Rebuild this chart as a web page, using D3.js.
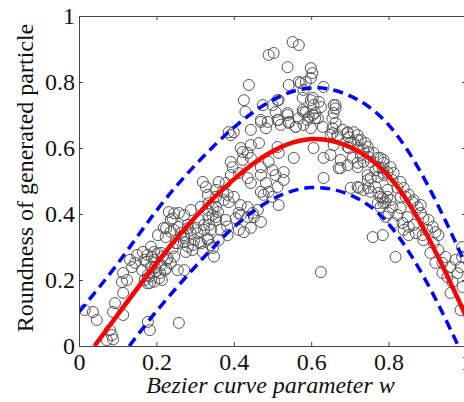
<!DOCTYPE html>
<html><head><meta charset="utf-8">
<script src="https://cdn.jsdelivr.net/npm/d3@7"></script>
<style>html,body{margin:0;padding:0;background:#fff;overflow:hidden}</style>
</head><body>
<svg id="c" width="464" height="402"></svg>
<script>
// ---------- data ----------
const xTicks = [0, 0.2, 0.4, 0.6, 0.8, 1];
const xTickLabels = ["0", "0.2", "0.4", "0.6", "0.8", "1"];
const yTicks = [0, 0.2, 0.4, 0.6, 0.8, 1];
const yTickLabels = ["0", "0.2", "0.4", "0.6", "0.8", "1"];
const xTitle = "Bezier curve parameter w";
const yTitle = "Roundness of generated particle";

// fitted curve (red)
const fitX = [0.04, 0.1, 0.2, 0.3, 0.4, 0.5, 0.6, 0.7, 0.8, 0.9, 1.0];
const fitY = [0.0, 0.095, 0.25, 0.39, 0.505, 0.59, 0.627, 0.603, 0.515, 0.335, 0.09];
// upper bound (blue dashed)
const upX = [0, 0.1, 0.2, 0.3, 0.4, 0.5, 0.6, 0.7, 0.8, 0.9, 1.0];
const upY = [0.103, 0.25, 0.41, 0.548, 0.662, 0.745, 0.782, 0.758, 0.67, 0.49, 0.245];
// lower bound (blue dashed)
const loX = [0.13, 0.2, 0.3, 0.4, 0.5, 0.6, 0.7, 0.8, 0.9, 0.98];
const loY = [0.0, 0.105, 0.24, 0.36, 0.445, 0.48, 0.458, 0.37, 0.19, 0.0];

// scatter points [w, roundness]
const samples = [
[0.015,0.109],[0.036,0.103],[0.046,0.079],[0.093,0.13],[0.088,0.103],[0.114,0.094],[0.08,0.048],[0.085,0.033],[0.072,0.018],[0.088,0.02],
[0.114,0.161],[0.111,0.194],[0.124,0.2],[0.114,0.221],[0.137,0.239],[0.145,0.252],[0.132,0.261],[0.15,0.276],[0.163,0.23],[0.17,0.2],
[0.178,0.215],[0.183,0.191],[0.175,0.255],[0.188,0.27],[0.196,0.239],[0.209,0.221],[0.222,0.23],[0.214,0.2],[0.227,0.261],[0.165,0.285],
[0.178,0.073],[0.183,0.048],
[0.186,0.301],[0.177,0.276],[0.169,0.261],[0.194,0.261],[0.186,0.24],[0.203,0.281],[0.216,0.271],[0.229,0.266],[0.212,0.245],[0.199,0.225],
[0.181,0.21],[0.177,0.19],[0.194,0.195],[0.207,0.205],[0.225,0.235],[0.237,0.251],[0.246,0.271],[0.242,0.296],[0.255,0.311],[0.272,0.326],
[0.263,0.342],[0.281,0.357],[0.237,0.346],[0.225,0.357],[0.242,0.387],[0.246,0.402],[0.272,0.397],[0.289,0.412],[0.315,0.422],[0.332,0.412],
[0.354,0.422],[0.345,0.397],[0.354,0.382],[0.336,0.367],[0.323,0.352],[0.306,0.342],[0.298,0.321],[0.281,0.301],[0.293,0.291],[0.315,0.311],
[0.332,0.326],[0.341,0.306],[0.349,0.271],[0.272,0.23],[0.255,0.23],[0.366,0.352],[0.383,0.362],[0.405,0.387],[0.418,0.397],[0.258,0.07],
[0.387,0.648],[0.392,0.639],[0.47,0.679],[0.465,0.615],[0.444,0.609],[0.423,0.588],[0.436,0.585],[0.444,0.57],[0.423,0.564],[0.392,0.558],
[0.397,0.542],[0.413,0.524],[0.392,0.518],[0.436,0.509],[0.444,0.494],[0.47,0.518],[0.483,0.494],[0.47,0.542],[0.49,0.558],[0.47,0.467],
[0.49,0.467],[0.379,0.494],[0.361,0.497],[0.32,0.497],[0.328,0.482],[0.354,0.473],[0.372,0.467],[0.384,0.458],[0.354,0.452],[0.374,0.442],
[0.387,0.436],[0.4,0.452],[0.418,0.427],[0.413,0.403],[0.436,0.421],[0.436,0.391],[0.462,0.412],[0.47,0.376],[0.449,0.403],[0.335,0.433],
[0.346,0.418],[0.359,0.406],[0.354,0.391],[0.379,0.382],[0.335,0.388],[0.323,0.367],[0.31,0.382],[0.302,0.358],[0.281,0.367],[0.289,0.342],
[0.271,0.336],[0.258,0.361],[0.245,0.352],[0.237,0.382],[0.258,0.403],[0.232,0.406],[0.219,0.358],[0.224,0.33],[0.204,0.336],[0.194,0.285],
[0.212,0.282],[0.25,0.312],[0.271,0.315],[0.294,0.306],[0.31,0.315],[0.333,0.321],[0.341,0.352],[0.333,0.458],[0.346,0.297],[0.32,0.285],
[0.276,0.285],[0.361,0.321],[0.384,0.336],[0.413,0.352],[0.426,0.345],[0.444,0.358],[0.452,0.391],[0.477,0.458],
[0.552,0.921],[0.568,0.912],[0.49,0.882],[0.503,0.888],[0.539,0.845],[0.599,0.842],[0.603,0.827],[0.599,0.812],[0.439,0.791],[0.426,0.745],
[0.43,0.71],[0.542,0.791],[0.568,0.80],[0.586,0.80],[0.632,0.785],[0.58,0.776],[0.578,0.752],[0.604,0.752],[0.62,0.74],[0.625,0.724],
[0.658,0.73],[0.663,0.72],[0.578,0.715],[0.586,0.709],[0.604,0.70],[0.61,0.69],[0.59,0.685],[0.568,0.69],[0.539,0.70],[0.542,0.679],
[0.513,0.685],[0.516,0.745],[0.50,0.73],[0.475,0.73],[0.47,0.685],[0.488,0.679],[0.521,0.67],[0.56,0.664],[0.483,0.66],[0.444,0.655],
[0.40,0.648],[0.418,0.6],[0.599,0.66],[0.63,0.664],[0.681,0.655],[0.694,0.645],[0.668,0.633],[0.65,0.64],[0.702,0.615],[0.697,0.6],
[0.658,0.609],
[0.573,0.797],[0.513,0.745],[0.599,0.745],[0.606,0.73],[0.58,0.709],[0.61,0.706],[0.617,0.69],[0.594,0.694],[0.663,0.73],[0.658,0.706],
[0.655,0.69],[0.663,0.676],[0.655,0.66],[0.655,0.645],[0.668,0.639],[0.694,0.648],[0.697,0.633],[0.72,0.639],[0.728,0.624],[0.71,0.615],
[0.694,0.603],[0.723,0.6],[0.746,0.603],[0.748,0.588],[0.728,0.579],[0.707,0.57],[0.676,0.564],[0.694,0.548],[0.671,0.539],[0.72,0.555],
[0.735,0.558],[0.754,0.558],[0.772,0.57],[0.787,0.564],[0.785,0.539],[0.766,0.533],[0.746,0.518],[0.754,0.509],[0.772,0.512],[0.787,0.518],
[0.72,0.482],[0.735,0.473],[0.754,0.467],[0.774,0.464],[0.785,0.448],[0.772,0.433],[0.779,0.421],[0.792,0.436],[0.508,0.709],[0.516,0.685],
[0.539,0.706],[0.542,0.676],[0.56,0.664],[0.58,0.67],[0.513,0.603],[0.516,0.585],[0.555,0.57],[0.606,0.6],[0.632,0.57],[0.65,0.579],
[0.676,0.539],[0.632,0.509],[0.5,0.533],[0.508,0.518],[0.529,0.527],[0.529,0.503],[0.513,0.482],[0.516,0.427],[0.5,0.452],
[0.71,0.648],[0.72,0.624],[0.74,0.615],[0.735,0.594],[0.761,0.585],[0.748,0.573],[0.779,0.57],[0.787,0.555],[0.805,0.542],[0.774,0.542],
[0.797,0.527],[0.813,0.524],[0.81,0.503],[0.831,0.497],[0.839,0.479],[0.823,0.479],[0.852,0.458],[0.831,0.452],[0.862,0.436],[0.875,0.421],
[0.883,0.403],[0.89,0.388],[0.903,0.382],[0.914,0.361],[0.921,0.345],[0.929,0.336],[0.72,0.542],[0.723,0.479],[0.748,0.479],[0.746,0.503],
[0.766,0.482],[0.779,0.452],[0.797,0.452],[0.797,0.473],[0.81,0.421],[0.8,0.403],[0.823,0.397],[0.813,0.373],[0.836,0.373],[0.839,0.352],
[0.852,0.361],[0.865,0.367],[0.852,0.336],[0.87,0.342],[0.888,0.336],[0.785,0.336],[0.702,0.479],
[0.787,0.524],[0.805,0.442],[0.787,0.433],[0.792,0.391],[0.818,0.27],[0.831,0.418],[0.849,0.391],[0.9,0.352],[0.89,0.321],[0.916,0.312],
[0.929,0.291],[0.908,0.282],[0.947,0.27],[0.939,0.252],[0.96,0.239],[0.973,0.261],[0.986,0.239],[0.978,0.221],[0.952,0.209],[0.965,0.194],
[0.939,0.221],[0.96,0.161],[0.991,0.179],[0.986,0.109],[0.921,0.252],[0.883,0.427],[0.865,0.442],[0.844,0.452],[0.99,0.27],[0.99,0.3],
[0.625,0.224],[0.759,0.33]
];

// ---------- drawing ----------
const svg = d3.select("#c");
const L = 79, R = 466, T = 16, B = 346;
const x = d3.scaleLinear().domain([0, 1]).range([L, R]);
const y = d3.scaleLinear().domain([0, 1]).range([B, T]);
const FONT = "'Liberation Serif','Times New Roman',Times,serif";
const axisColor = "#444";

svg.append("rect").attr("width", 464).attr("height", 402).attr("fill", "#fff");

svg.append("clipPath").attr("id", "clip")
  .append("rect").attr("x", L).attr("y", T).attr("width", R - L).attr("height", B - T);

const plot = svg.append("g").attr("clip-path", "url(#clip)");

plot.append("g").selectAll("circle").data(samples).join("circle")
  .attr("cx", d => x(d[0])).attr("cy", d => y(d[1])).attr("r", 5.5)
  .attr("fill", "none").attr("stroke", "#555").attr("stroke-width", 1);

const line = d3.line().x(d => x(d[0])).y(d => y(d[1])).curve(d3.curveNatural);
const zip = (a, b) => a.map((v, i) => [v, b[i]]);

plot.append("path").datum(zip(upX, upY)).attr("d", line)
  .attr("fill", "none").attr("stroke", "#0000ff").attr("stroke-width", 3.5).attr("stroke-dasharray", "10,6");
plot.append("path").datum(zip(loX, loY)).attr("d", line)
  .attr("fill", "none").attr("stroke", "#0000ff").attr("stroke-width", 3.5).attr("stroke-dasharray", "10,6");
plot.append("path").datum(zip(fitX, fitY)).attr("d", line)
  .attr("fill", "none").attr("stroke", "#ff0000").attr("stroke-width", 4.5);

function styleAxis(g, withText) {
  g.select(".domain").attr("stroke", axisColor).attr("stroke-width", 1);
  g.selectAll(".tick line").attr("stroke", axisColor);
  g.selectAll(".tick text").attr("font-family", FONT).attr("font-size", 24).attr("fill", "#111");
  if (!withText) g.selectAll(".tick text").remove();
}

svg.append("g").attr("transform", `translate(0,${B})`)
  .call(d3.axisBottom(x).tickValues(xTicks).tickFormat((d, i) => xTickLabels[i]).tickSizeInner(-4).tickSizeOuter(0).tickPadding(7))
  .call(g => styleAxis(g, true));
svg.append("g").attr("transform", `translate(0,${T})`)
  .call(d3.axisTop(x).tickValues(xTicks).tickSizeInner(-4).tickSizeOuter(0))
  .call(g => styleAxis(g, false));
svg.append("g").attr("transform", `translate(${L},0)`)
  .call(d3.axisLeft(y).tickValues(yTicks).tickFormat((d, i) => yTickLabels[i]).tickSizeInner(-4).tickSizeOuter(0).tickPadding(4))
  .call(g => styleAxis(g, true));
svg.append("g").attr("transform", `translate(${R},0)`)
  .call(d3.axisRight(y).tickValues(yTicks).tickSizeInner(-4).tickSizeOuter(0))
  .call(g => styleAxis(g, false));

svg.append("text").attr("x", (L + R) / 2 - 2).attr("y", 393)
  .attr("text-anchor", "middle").attr("font-family", FONT).attr("font-style", "italic")
  .attr("font-size", 24).attr("fill", "#111").text(xTitle);

svg.append("text").attr("transform", `translate(33,178) rotate(-90)`)
  .attr("text-anchor", "middle").attr("font-family", FONT)
  .attr("font-size", 24).attr("fill", "#111").text(yTitle);
</script>
</body></html>
